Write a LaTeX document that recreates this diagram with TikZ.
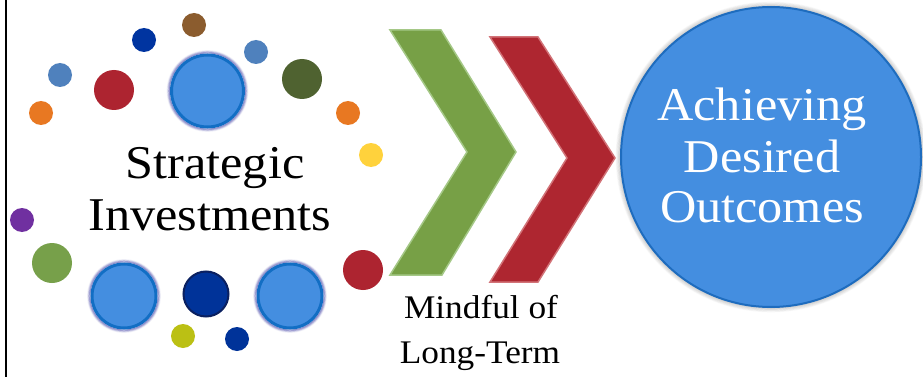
\documentclass[tikz,border=0pt]{standalone}
\usepackage{fontspec}
\setmainfont{Liberation Serif}[FakeStretch=1.07]
\definecolor{bluefill}{RGB}{68,142,224}
\definecolor{bluering}{RGB}{18,110,196}
\definecolor{glowc}{RGB}{80,80,175}
\definecolor{cbrown}{RGB}{139,92,46}
\definecolor{cdblue}{RGB}{0,52,160}
\definecolor{csteel}{RGB}{79,129,189}
\definecolor{corange}{RGB}{232,120,34}
\definecolor{cred}{RGB}{173,36,48}
\definecolor{colive}{RGB}{79,98,48}
\definecolor{cyellow}{RGB}{255,210,60}
\definecolor{cpurple}{RGB}{112,48,160}
\definecolor{cgreen}{RGB}{119,160,74}
\definecolor{cnavy}{RGB}{0,51,153}
\definecolor{cnavyb}{RGB}{10,32,96}
\definecolor{cyg}{RGB}{187,192,20}
\definecolor{chgreen}{RGB}{119,160,70}
\definecolor{chgreenb}{RGB}{165,200,135}
\definecolor{chred}{RGB}{174,38,48}
\definecolor{chredb}{RGB}{210,115,120}
\definecolor{bigring}{RGB}{30,108,190}
\newcommand\glowdisc[4]{%
  \foreach \k [evaluate=\k as \op using 0.75-0.17*\k,
               evaluate=\k as \rr using #4+1.2+0.8*\k] in {1,...,4}
    \draw[glowc, line width=1pt, opacity=\op] (#2,#3) circle[radius=\rr];
  \node[bigdisc, minimum size={2*#4 pt}] (#1) at (#2,#3) {};
}
\begin{document}
\begin{tikzpicture}[x=1pt,y=-1pt,
  dot/.style={circle, inner sep=0pt, draw=none, fill=#1},
  small/.style={minimum size=24pt},
  mid/.style={minimum size=40pt},
  bigdisc/.style={circle, inner sep=0pt, fill=bluefill, draw=bluering, line width=3pt},
  bigtxt/.style={font=\fontsize{47}{51}\selectfont, anchor=base, inner sep=0pt},
  smalltxt/.style={font=\fontsize{33}{40}\selectfont, anchor=base, inner sep=0pt},
  chev/.style={line width=1.5pt, line join=miter}
]
\useasboundingbox (0,0) rectangle (923,377);
\fill[white] (0,0) rectangle (923,377);
\coordinate (bt) at (6,0);
\coordinate (bb) at (6,377);
\draw[line width=2.2pt] (bt) -- (bb);

% small and medium dots
\node[dot=cbrown, small] (d1) at (194,25) {};
\node[dot=cdblue, small] (d2) at (144,40) {};
\node[dot=csteel, small] (d3) at (256,52) {};
\node[dot=csteel, small] (d4) at (60,75) {};
\node[dot=corange, small] (d5) at (41,113) {};
\node[dot=cred, mid] (d6) at (114,90) {};
\node[dot=colive, mid] (d7) at (302,79) {};
\node[dot=corange, small] (d8) at (348,113) {};
\node[dot=cyellow, small] (d9) at (371,155) {};
\node[dot=cpurple, small] (d10) at (22,220) {};
\node[dot=cgreen, mid] (d11) at (52,263) {};
\node[dot=cred, mid] (d12) at (363,270) {};
\node[dot=cyg, small] (d13) at (183,336) {};
\node[dot=cnavy, small] (d14) at (237,339) {};
\node[circle, inner sep=0pt, fill=cnavy, draw=cnavyb, line width=2pt, minimum size=45pt] (d15) at (206,294) {};

% big glowing discs
\glowdisc{b1}{207.5}{91}{36}
\glowdisc{b2}{124}{296}{32}
\glowdisc{b3}{290}{296}{32}

% text left
\node[bigtxt] (s1) at (215,178) {Strategic};
\node[bigtxt] (s2) at (210,230) {Investments};

% chevrons
\draw[chev, draw=chgreenb, fill=chgreen]
  (390,30) -- (441,30) -- (516,152) -- (442,275) -- (390,275) -- (467,152) -- cycle;
\draw[chev, draw=chredb, fill=chred]
  (490,37) -- (538,37) -- (615,158) -- (538,282) -- (490,282) -- (567,158) -- cycle;

% big circle
\foreach \k [evaluate=\k as \op using 0.35-0.05*\k] in {1,...,6}
  \draw[gray, line width=1pt, opacity=\op] (771,157) circle[radius=150+\k*0.8];
\node[circle, inner sep=0pt, fill=bluefill, draw=bigring, line width=2pt, minimum size=300pt] (goal) at (771,157) {};
\node[bigtxt, text=white] (g1) at (762,121) {Achieving};
\node[bigtxt, text=white] (g2) at (762,172) {Desired};
\node[bigtxt, text=white] (g3) at (762,222) {Outcomes};

% lower label
\node[smalltxt] (m1) at (481,318) {Mindful of};
\node[smalltxt] (m2) at (480,363) {Long-Term};
\end{tikzpicture}
\end{document}
